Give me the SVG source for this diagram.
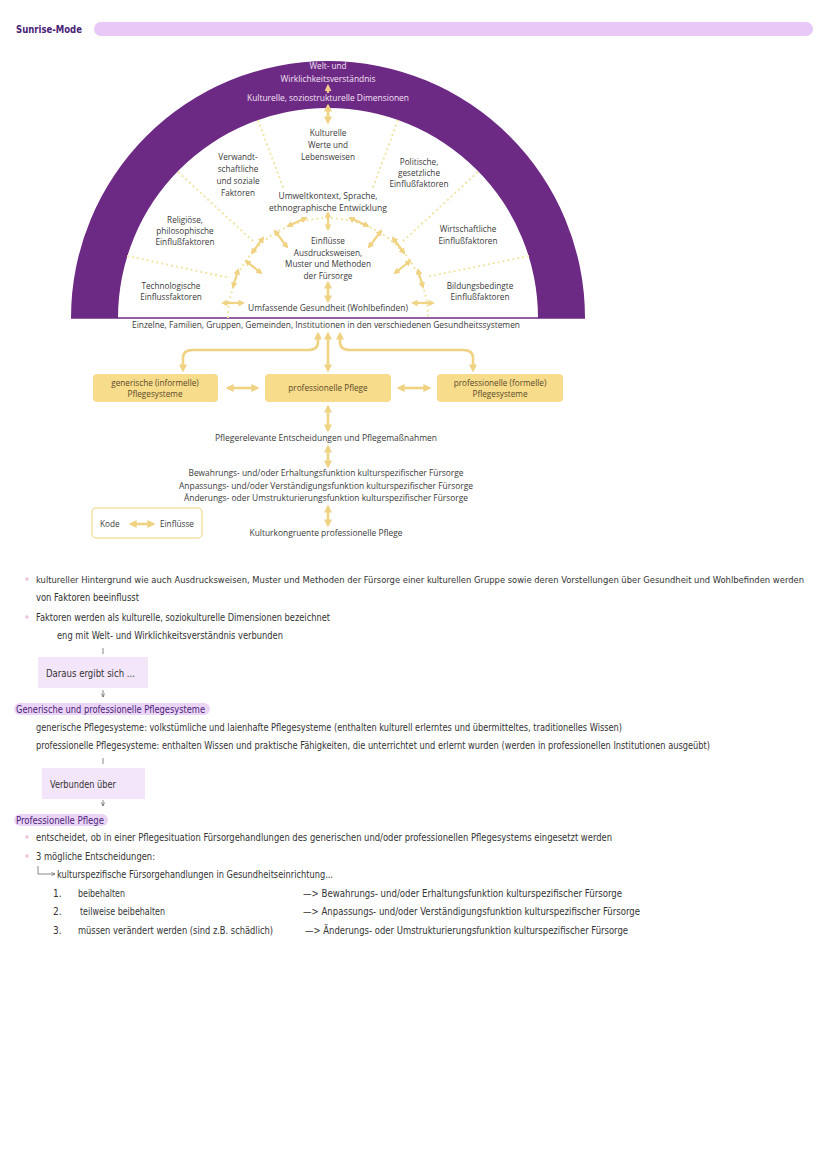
<svg xmlns="http://www.w3.org/2000/svg" width="828" height="1171" viewBox="0 0 828 1171">
<style>
.d{font-family:"Open Sans","Liberation Sans",sans-serif;font-size:8.2px;fill:#3a3a3a;text-anchor:middle}
.w{font-family:"Open Sans","Liberation Sans",sans-serif;font-size:8.2px;fill:#f5e2f3;text-anchor:middle}
.b{font-family:"Open Sans","Liberation Sans",sans-serif;font-size:8.2px;fill:#5a4a28;text-anchor:middle}
.n{font-family:"DejaVu Sans Condensed","Liberation Sans Narrow","DejaVu Sans",sans-serif;font-size:10px;fill:#333333}
.h{font-family:"DejaVu Sans Condensed","Liberation Sans Narrow","DejaVu Sans",sans-serif;font-size:10px;fill:#4a2276}
.dot{stroke:#f1e5a6;stroke-width:2;stroke-dasharray:2 3;fill:none}
.ar{stroke:#f0d283;stroke-width:2.6;fill:none;marker-start:url(#ah);marker-end:url(#ah)}
.sar{stroke:#f0d283;stroke-width:2.2;fill:none;marker-start:url(#ahs);marker-end:url(#ahs)}
.box{fill:#f7dc8c}
.pbox{fill:#f3e5fa}
.bul{fill:#f0c4df}
.thin{stroke:#555;stroke-width:0.7;fill:none}
</style>
<defs>
<marker id="ah" viewBox="0 0 10 10" refX="7" refY="5" markerWidth="8" markerHeight="8" markerUnits="userSpaceOnUse" orient="auto-start-reverse"><path d="M0,0 L10,5 L0,10 z" fill="#f0d283"/></marker>
<marker id="ahs" viewBox="0 0 10 10" refX="7" refY="5" markerWidth="6.5" markerHeight="6.5" markerUnits="userSpaceOnUse" orient="auto-start-reverse"><path d="M0,0 L10,5 L0,10 z" fill="#f0d283"/></marker>
<marker id="up" viewBox="0 0 10 10" refX="7" refY="5" markerWidth="7" markerHeight="7" markerUnits="userSpaceOnUse" orient="auto"><path d="M0,0 L10,5 L0,10 z" fill="#f4c98c"/></marker>
<marker id="sm" viewBox="0 0 10 10" refX="9" refY="5" markerWidth="4" markerHeight="4" markerUnits="userSpaceOnUse" orient="auto"><path d="M0,1 L10,5 L0,9" fill="none" stroke="#555" stroke-width="1.5"/></marker>
</defs>
<rect width="828" height="1171" fill="#ffffff"/>

<g id="header">
<text x="16" y="33" class="h" style="font-size:11px;font-weight:bold" textLength="66" lengthAdjust="spacingAndGlyphs">Sunrise-Mode</text>
<rect x="94" y="22" width="719" height="14" rx="7" fill="#e7c8f6"/>
</g>

<g id="arch">
<path d="M71,318 A257,257 0 0 1 585,318 L538,318 A210,210 0 0 0 118,318 Z" fill="#6c2a85"/>
<line x1="71" y1="318" x2="585" y2="318" stroke="#6c2a85" stroke-width="1.6"/>
<text x="328" y="69" class="w">Welt- und</text>
<text x="328" y="82" class="w" textLength="95" lengthAdjust="spacingAndGlyphs">Wirklichkeitsverständnis</text>
<text x="328" y="101" class="w" textLength="162" lengthAdjust="spacingAndGlyphs">Kulturelle, soziostrukturelle Dimensionen</text>
<line x1="328" y1="93" x2="328" y2="86" stroke="#f4c98c" stroke-width="2.2" marker-end="url(#up)"/>
</g>

<g id="connectors">
<path class="dot" d="M228,318 A100,100 0 0 1 428,318"/>
<line class="dot" x1="127" y1="256" x2="230" y2="278"/>
<line class="dot" x1="178" y1="172" x2="255" y2="243"/>
<line class="dot" x1="258" y1="120" x2="284" y2="190"/>
<line class="dot" x1="398" y1="120" x2="372" y2="190"/>
<line class="dot" x1="478" y1="172" x2="401" y2="243"/>
<line class="dot" x1="529" y1="256" x2="426" y2="277"/>
<line class="ar" x1="328" y1="106" x2="328" y2="122"/>
<line class="sar" x1="223" y1="303" x2="243" y2="303"/>
<line class="sar" x1="233" y1="287" x2="238" y2="270"/>
<line class="sar" x1="246" y1="261" x2="261" y2="273"/>
<line class="sar" x1="252" y1="253" x2="263" y2="238"/>
<line class="sar" x1="275" y1="231" x2="287" y2="247"/>
<line class="sar" x1="288" y1="226" x2="306" y2="218"/>
<line class="sar" x1="328" y1="213" x2="328" y2="229"/>
<line class="sar" x1="368" y1="226" x2="350" y2="218"/>
<line class="sar" x1="381" y1="231" x2="369" y2="247"/>
<line class="sar" x1="404" y1="253" x2="393" y2="238"/>
<line class="sar" x1="410" y1="261" x2="395" y2="273"/>
<line class="sar" x1="423" y1="287" x2="418" y2="270"/>
<line class="sar" x1="433" y1="303" x2="413" y2="303"/>
<line class="ar" x1="328" y1="283" x2="328" y2="301"/>
<line class="ar" x1="328" y1="334" x2="328" y2="370"/>
<path class="ar" d="M318,334 L318,342 Q318,350 308,350 L193,350 Q183,350 183,358 L183,370"/>
<path class="ar" d="M340,334 L340,342 Q340,350 350,350 L463,350 Q473,350 473,358 L473,370"/>
<line class="ar" x1="228" y1="388" x2="257" y2="388"/>
<line class="ar" x1="399" y1="388" x2="429" y2="388"/>
<line class="ar" x1="328" y1="407" x2="328" y2="430"/>
<line class="ar" x1="328" y1="447" x2="328" y2="466"/>
<line class="ar" x1="328" y1="507" x2="328" y2="525"/>
<line class="ar" x1="131" y1="524" x2="153" y2="524"/>
<line class="thin" x1="103" y1="648" x2="103" y2="654"/>
<line class="thin" x1="103" y1="690" x2="103" y2="697" marker-end="url(#sm)"/>
<line class="thin" x1="103" y1="758" x2="103" y2="764"/>
<line class="thin" x1="103" y1="800" x2="103" y2="806" marker-end="url(#sm)"/>
<path class="thin" d="M38,866 L38,874 L55,874" marker-end="url(#sm)"/>
</g>

<g id="n-kulturelle-werte"><text x="328" y="136" class="d">Kulturelle</text><text x="328" y="148" class="d">Werte und</text><text x="328" y="160" class="d">Lebensweisen</text></g>
<g id="n-verwandt"><text x="238" y="160" class="d">Verwandt-</text><text x="238" y="172" class="d">schaftliche</text><text x="238" y="184" class="d">und soziale</text><text x="238" y="196" class="d">Faktoren</text></g>
<g id="n-politisch"><text x="419" y="165" class="d">Politische,</text><text x="419" y="176" class="d">gesetzliche</text><text x="419" y="187" class="d">Einflußfaktoren</text></g>
<g id="n-religioes"><text x="185" y="223" class="d">Religiöse,</text><text x="185" y="234" class="d">philosophische</text><text x="185" y="245" class="d">Einflußfaktoren</text></g>
<g id="n-wirtschaft"><text x="468" y="232" class="d">Wirtschaftliche</text><text x="468" y="244" class="d">Einflußfaktoren</text></g>
<g id="n-technolog"><text x="171" y="289" class="d">Technologische</text><text x="171" y="300" class="d">Einflussfaktoren</text></g>
<g id="n-bildung"><text x="480" y="289" class="d">Bildungsbedingte</text><text x="480" y="300" class="d">Einflußfaktoren</text></g>
<g id="n-umwelt"><text x="328" y="199" class="d" textLength="99" lengthAdjust="spacingAndGlyphs">Umweltkontext, Sprache,</text><text x="328" y="211" class="d" textLength="118" lengthAdjust="spacingAndGlyphs">ethnographische Entwicklung</text></g>
<g id="n-einfluesse"><text x="328" y="244" class="d">Einflüsse</text><text x="328" y="256" class="d">Ausdrucksweisen,</text><text x="328" y="267" class="d">Muster und Methoden</text><text x="328" y="279" class="d">der Fürsorge</text></g>
<g id="n-gesundheit"><text x="328" y="311" class="d" textLength="160" lengthAdjust="spacingAndGlyphs">Umfassende Gesundheit (Wohlbefinden)</text></g>
<g id="n-einzelne"><text x="326" y="328" class="d" textLength="388" lengthAdjust="spacingAndGlyphs">Einzelne, Familien, Gruppen, Gemeinden, Institutionen in den verschiedenen Gesundheitssystemen</text></g>
<g id="n-generisch"><rect class="box" x="93" y="374" width="125" height="28" rx="4"/><text x="155" y="386" class="b">generische (informelle)</text><text x="155" y="397" class="b">Pflegesysteme</text></g>
<g id="n-profpflege"><rect class="box" x="265" y="374" width="126" height="28" rx="4"/><text x="328" y="391" class="b">professionelle Pflege</text></g>
<g id="n-formell"><rect class="box" x="437" y="374" width="126" height="28" rx="4"/><text x="500" y="386" class="b">professionelle (formelle)</text><text x="500" y="397" class="b">Pflegesysteme</text></g>
<g id="n-entscheidungen"><text x="326" y="441" class="d" textLength="222" lengthAdjust="spacingAndGlyphs">Pflegerelevante Entscheidungen und Pflegemaßnahmen</text></g>
<g id="n-funktionen">
<text x="326" y="476" class="d" textLength="275" lengthAdjust="spacingAndGlyphs">Bewahrungs- und/oder Erhaltungsfunktion kulturspezifischer Fürsorge</text>
<text x="326" y="489" class="d" textLength="294" lengthAdjust="spacingAndGlyphs">Anpassungs- und/oder Verständigungsfunktion kulturspezifischer Fürsorge</text>
<text x="326" y="501" class="d" textLength="284" lengthAdjust="spacingAndGlyphs">Änderungs- oder Umstrukturierungsfunktion kulturspezifischer Fürsorge</text>
</g>
<g id="n-kongruent"><text x="326" y="536" class="d" textLength="153" lengthAdjust="spacingAndGlyphs">Kulturkongruente professionelle Pflege</text></g>
<g id="legend"><rect x="92" y="508" width="110" height="30" rx="4" fill="none" stroke="#f3e2a6" stroke-width="1.5"/><text x="100" y="527" class="d" style="text-anchor:start">Kode</text><text x="160" y="527" class="d" style="text-anchor:start">Einflüsse</text></g>

<g id="notes">
<circle class="bul" cx="27" cy="579" r="1.8"/>
<text x="36" y="583" class="n" style="font-size:9px" textLength="768" lengthAdjust="spacingAndGlyphs">kultureller Hintergrund wie auch Ausdrucksweisen, Muster und Methoden der Fürsorge einer kulturellen Gruppe sowie deren Vorstellungen über Gesundheit und Wohlbefinden werden</text>
<text x="36" y="601" class="n" textLength="103" lengthAdjust="spacingAndGlyphs">von Faktoren beeinflusst</text>
<circle class="bul" cx="27" cy="617" r="1.8"/>
<text x="36" y="621" class="n" textLength="294" lengthAdjust="spacingAndGlyphs">Faktoren werden als kulturelle, soziokulturelle Dimensionen bezeichnet</text>
<text x="57" y="639" class="n" textLength="226" lengthAdjust="spacingAndGlyphs">eng mit Welt- und Wirklichkeitsverständnis verbunden</text>
</g>
<g id="n-daraus"><rect class="pbox" x="38" y="657" width="110" height="31"/><text x="46" y="677" class="n" textLength="89" lengthAdjust="spacingAndGlyphs">Daraus ergibt sich ...</text></g>
<g id="n-systeme">
<rect x="14" y="703" width="196" height="12" rx="6" fill="#ead5f7"/>
<text x="16" y="713" class="h" textLength="189" lengthAdjust="spacingAndGlyphs">Generische und professionelle Pflegesysteme</text>
<text x="36" y="731" class="n" textLength="586" lengthAdjust="spacingAndGlyphs">generische Pflegesysteme: volkstümliche und laienhafte Pflegesysteme (enthalten kulturell erlerntes und übermitteltes, traditionelles Wissen)</text>
<text x="36" y="749" class="n" textLength="674" lengthAdjust="spacingAndGlyphs">professionelle Pflegesysteme: enthalten Wissen und praktische Fähigkeiten, die unterrichtet und erlernt wurden (werden in professionellen Institutionen ausgeübt)</text>
</g>
<g id="n-verbunden"><rect class="pbox" x="42" y="768" width="103" height="31"/><text x="50" y="788" class="n" textLength="66" lengthAdjust="spacingAndGlyphs">Verbunden über</text></g>
<g id="n-profpflege-notes">
<rect x="14" y="814" width="94" height="12" rx="6" fill="#ead5f7"/>
<text x="16" y="824" class="h" textLength="88" lengthAdjust="spacingAndGlyphs">Professionelle Pflege</text>
<circle class="bul" cx="27" cy="837" r="1.8"/>
<text x="36" y="841" class="n" textLength="576" lengthAdjust="spacingAndGlyphs">entscheidet, ob in einer Pflegesituation Fürsorgehandlungen des generischen und/oder professionellen Pflegesystems eingesetzt werden</text>
<circle class="bul" cx="27" cy="856" r="1.8"/>
<text x="36" y="860" class="n" textLength="119" lengthAdjust="spacingAndGlyphs">3 mögliche Entscheidungen:</text>
<text x="57" y="878" class="n" textLength="276" lengthAdjust="spacingAndGlyphs">kulturspezifische Fürsorgehandlungen in Gesundheitseinrichtung...</text>
<text x="53" y="897" class="n">1.</text>
<text x="78" y="897" class="n" textLength="47" lengthAdjust="spacingAndGlyphs">beibehalten</text>
<text x="303" y="897" class="n" textLength="319" lengthAdjust="spacingAndGlyphs">—&gt; Bewahrungs- und/oder Erhaltungsfunktion kulturspezifischer Fürsorge</text>
<text x="53" y="915" class="n">2.</text>
<text x="80" y="915" class="n" textLength="85" lengthAdjust="spacingAndGlyphs">teilweise beibehalten</text>
<text x="303" y="915" class="n" textLength="337" lengthAdjust="spacingAndGlyphs">—&gt; Anpassungs- und/oder Verständigungsfunktion kulturspezifischer Fürsorge</text>
<text x="53" y="934" class="n">3.</text>
<text x="78" y="934" class="n" textLength="195" lengthAdjust="spacingAndGlyphs">müssen verändert werden (sind z.B. schädlich)</text>
<text x="305" y="934" class="n" textLength="323" lengthAdjust="spacingAndGlyphs">—&gt; Änderungs- oder Umstrukturierungsfunktion kulturspezifischer Fürsorge</text>
</g>
</svg>
